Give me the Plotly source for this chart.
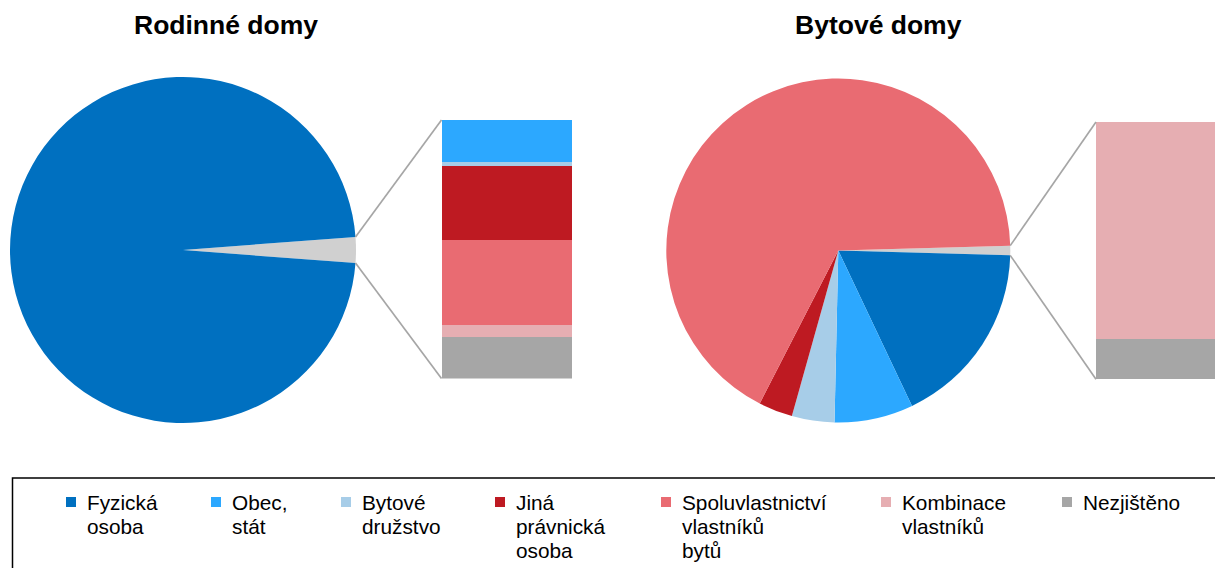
import math
import plotly.graph_objects as go

W, H = 1215, 568

# ---------------- data ----------------
categories = ["Fyzická osoba", "Obec, stát", "Bytové družstvo", "Jiná právnická osoba",
              "Spoluvlastnictví vlastníků bytů", "Kombinace vlastníků", "Nezjištěno"]
legend_lines = [["Fyzická", "osoba"], ["Obec,", "stát"], ["Bytové", "družstvo"],
                ["Jiná", "právnická", "osoba"], ["Spoluvlastnictví", "vlastníků", "bytů"],
                ["Kombinace", "vlastníků"], ["Nezjištěno"]]
colors = ["#0070C0", "#2CA8FF", "#A7CDE8", "#BE1A22", "#E96B72", "#E6AEB2", "#A6A6A6"]
other_color = "#D0D0D0"

titles = ["Rodinné domy", "Bytové domy"]
rd_values = [97.59, 0.39, 0.04, 0.69, 0.79, 0.11, 0.39]   # % Rodinné domy
bd_values = [17.5, 7.4, 4.0, 3.2, 67.0, 0.76, 0.14]       # % Bytové domy
splits = [1, 5]   # number of categories shown in the pie; the rest goes to the bar

# ---------------- layout geometry (px) ----------------
pies = [dict(cx=183.0, cy=250.0, r=173.0), dict(cx=838.3, cy=250.5, r=172.0)]
bars = [dict(x0=441.5, x1=572.0, y0=120.0, y1=378.5), dict(x0=1096.0, x1=1227.0, y0=122.0, y1=379.3)]
title_x = [226, 878]
legend_marker_x = [66, 211, 341, 495, 661, 881, 1062]

def px(x):
    return x / W

def py(y):
    return 1 - y / H

fig = go.Figure()
shapes = []
annotations = []

for k, (vals, split) in enumerate(zip([rd_values, bd_values], splits)):
    other = sum(vals[split:])
    total = sum(vals)
    p = pies[k]
    b = bars[k]
    labels = ["Ostatní"] + categories[:split]
    pvals = [other] + vals[:split]
    pcols = [other_color] + colors[:split]
    rotation = 90 - other / total * 180
    fig.add_trace(go.Pie(
        labels=labels, values=pvals, sort=False, direction="clockwise",
        rotation=rotation, marker=dict(colors=pcols, line=dict(width=0)),
        textinfo="none", showlegend=False,
        domain=dict(x=[px(p["cx"] - p["r"]), px(p["cx"] + p["r"])],
                    y=[py(p["cy"] + p["r"]), py(p["cy"] - p["r"])]),
        hovertemplate="%{label}: %{value}%<extra></extra>",
    ))
    xa = "x" if k == 0 else "x2"
    ya = "y" if k == 0 else "y2"
    for i in reversed(range(split, len(vals))):
        fig.add_trace(go.Bar(
            x=[0], y=[vals[i]], width=1, marker=dict(color=colors[i], line=dict(width=0)),
            xaxis=xa, yaxis=ya, showlegend=False, name=categories[i],
            hovertemplate=categories[i] + ": %{y}%<extra></extra>",
        ))
    axname = "" if k == 0 else "2"
    bw = b["x1"] - b["x0"]
    x_end = min(b["x1"], W)
    fig.update_layout(**{
        "xaxis" + axname: dict(domain=[px(b["x0"]), px(x_end)],
                               range=[-0.5, -0.5 + (x_end - b["x0"]) / bw],
                               visible=False, fixedrange=True,
                               anchor="y" + axname),
        "yaxis" + axname: dict(domain=[py(b["y1"]), py(b["y0"])], range=[0, other],
                               visible=False, fixedrange=True,
                               anchor="x" + axname),
    })
    # connector lines from the "other" slice to the bar
    half = other / total * math.pi
    ex = p["cx"] + p["r"] * math.cos(half)
    ey_top = p["cy"] - p["r"] * math.sin(half)
    ey_bot = p["cy"] + p["r"] * math.sin(half)
    for (sy, ty) in [(ey_top, b["y0"]), (ey_bot, b["y1"])]:
        shapes.append(dict(type="line", xref="paper", yref="paper",
                           x0=px(ex), y0=py(sy), x1=px(b["x0"]), y1=py(ty),
                           line=dict(color="#A6A6A6", width=1.7)))
    annotations.append(dict(text="<b>" + titles[k] + "</b>", x=px(title_x[k]), y=py(25),
                            xref="paper", yref="paper", xanchor="center", yanchor="middle",
                            showarrow=False, font=dict(size=26.5, color="#000000")))

# legend box
shapes.append(dict(type="rect", xref="paper", yref="paper", x0=px(12.5), y0=py(600),
                   x1=px(1250), y1=py(478), line=dict(color="#000000", width=1.5),
                   fillcolor="rgba(0,0,0,0)", layer="above"))
for i, mx in enumerate(legend_marker_x):
    shapes.append(dict(type="rect", xref="paper", yref="paper", x0=px(mx), x1=px(mx + 10),
                       y0=py(507), y1=py(497), fillcolor=colors[i], line=dict(width=0)))
    for j, line in enumerate(legend_lines[i]):
        annotations.append(dict(text=line, x=px(mx + 19), y=py(502 + 24 * j),
                                xref="paper", yref="paper", xanchor="left", yanchor="middle",
                                showarrow=False, font=dict(size=20.8, color="#000000")))

fig.update_layout(
    width=W, height=H, margin=dict(l=0, r=0, t=0, b=0),
    paper_bgcolor="white", plot_bgcolor="rgba(0,0,0,0)",
    barmode="stack", bargap=0,
    font=dict(family="Liberation Sans, Arial, sans-serif"),
    shapes=shapes, annotations=annotations, showlegend=False,
)

fig.write_html("out.html", config={"displayModeBar": False},
               post_script="document.body.style.margin='0';document.body.style.overflow='hidden';")
